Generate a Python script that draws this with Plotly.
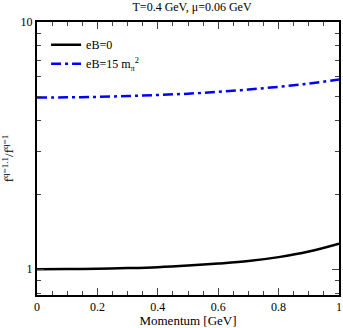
import plotly.graph_objects as go

# momentum grid [GeV] and ratio values
momentum = [0.0, 0.1, 0.2, 0.3, 0.4, 0.5, 0.6, 0.7, 0.8, 0.9, 1.0]
ratio_eb0 = [1.0, 1.002, 1.005, 1.011, 1.02, 1.035, 1.055, 1.08, 1.12, 1.18, 1.27]
ratio_eb15 = [4.95, 4.96, 4.98, 5.02, 5.07, 5.13, 5.22, 5.33, 5.47, 5.64, 5.85]

serif = "Liberation Serif"

fig = go.Figure().add_trace(
    go.Scatter(
        x = momentum,
        y = ratio_eb0,
        mode = "lines",
        name = "eB=0",
        line = {"color": "black", "width": 2.5, "shape": "spline"},
    )
).add_trace(
    go.Scatter(
        x = momentum,
        y = ratio_eb15,
        mode = "lines",
        name = "eB=15 m<sub>π</sub><sup>2</sup>",
        line = {"color": "#0000ff", "width": 2.5, "dash": "10px,4px,3px,4px", "shape": "spline"},
    )
).update_layout(
    width = 343,
    height = 328,
    paper_bgcolor = "white",
    plot_bgcolor = "white",
    font = {"family": serif, "size": 12, "color": "black"},
    title = {
        "text": "T=0.4 GeV, μ=0.06 GeV",
        "x": 0.56,
        "xanchor": "center",
        "y": 0.992,
        "yanchor": "top",
        "font": {"size": 12},
    },
    margin = {"l": 37, "r": 2, "t": 22, "b": 31, "pad": 0},
    xaxis = {
        "title": {"text": "Momentum [GeV]", "standoff": 2, "font": {"size": 13}},
        "range": [0, 1],
        "tickvals": [0, 0.2, 0.4, 0.6, 0.8, 1],
        "ticktext": ["0", "0.2", "0.4", "0.6", "0.8", "1"],
        "ticks": "inside",
        "ticklen": 7,
        "tickwidth": 1,
        "minor": {"tickvals": [0.05 * i for i in range(21)], "ticks": "inside", "ticklen": 4},
        "showline": True,
        "linewidth": 2,
        "linecolor": "black",
        "mirror": "allticks",
        "showgrid": False,
        "zeroline": False,
        "tickfont": {"size": 12},
    },
    yaxis = {
        "title": {"text": "f<sup>q=1.1</sup>/f<sup>q=1</sup>", "standoff": 5, "font": {"size": 13}},
        "type": "log",
        "range": [-0.104, 1],
        "tickvals": [1, 10],
        "ticktext": ["1", "10"],
        "ticks": "inside",
        "ticklen": 7,
        "tickwidth": 1,
        "minor": {"tickvals": [0.8, 0.9, 2, 3, 4, 5, 6, 7, 8, 9], "ticks": "inside", "ticklen": 4},
        "showline": True,
        "linewidth": 2,
        "linecolor": "black",
        "mirror": "allticks",
        "showgrid": False,
        "zeroline": False,
        "tickfont": {"size": 12},
    },
    legend = {
        "x": 0.03,
        "y": 0.97,
        "xanchor": "left",
        "yanchor": "top",
        "bgcolor": "rgba(0,0,0,0)",
        "font": {"size": 12},
        "itemwidth": 30,
        "tracegroupgap": 2,
    },
    showlegend = True,
)

# the page's default body margin shifts the figure, so drop it
fig.write_html(
    "out.html",
    config = {"displayModeBar": False},
    post_script = "document.body.style.margin = '0'; document.body.style.overflow = 'hidden';",
)
